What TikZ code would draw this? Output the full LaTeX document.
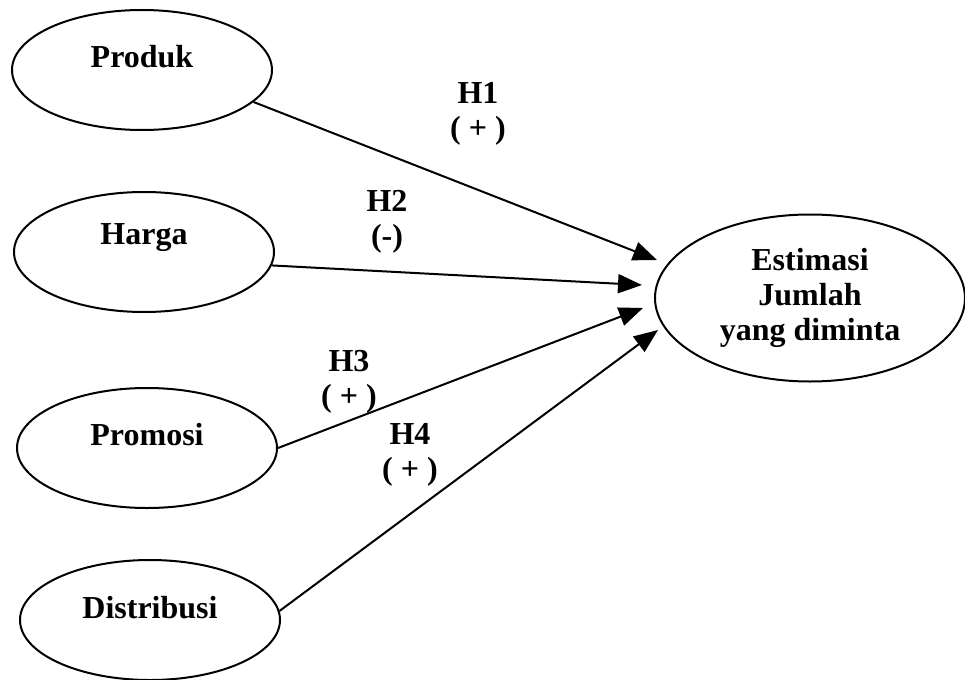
\documentclass[tikz,border=0pt]{standalone}
\usepackage{fontspec}
\setmainfont{Liberation Serif}
\usetikzlibrary{shapes.geometric,arrows.meta}
\begin{document}
\begin{tikzpicture}[x=1pt,y=-1pt,
  every node/.style={font=\fontsize{32}{35}\selectfont\bfseries},
  var/.style={ellipse,draw,line width=2pt,minimum width=260pt,minimum height=120pt,inner sep=0pt},
  target/.style={ellipse,draw,line width=2pt,minimum width=310pt,minimum height=167pt,inner sep=0pt,align=center},
  hyp/.style={inner sep=0pt,align=center},
  link/.style={line width=2pt,-{Triangle[length=24pt,width=19pt]}}]
  \useasboundingbox (0,0) rectangle (965,679);

  % independent variables
  \node[var,label={[yshift=13pt]center:Produk}] (prod) at (142,70) {};
  \node[var,label={[yshift=14pt]center:Harga}] (harga) at (144,252) {};
  \node[var,label={[yshift=13pt]center:Promosi}] (prom) at (147,448) {};
  \node[var,label={[yshift=12pt]center:Distribusi}] (dist) at (150,620) {};

  % dependent variable
  \node[target] (est) at (810,298) {Estimasi\\Jumlah\\yang diminta};

  % arrow tips, just short of the target ellipse
  \coordinate (t1) at (657,260);
  \coordinate (t2) at (642,285);
  \coordinate (t3) at (643,308);
  \coordinate (t4) at (658,330);

  \draw[link] (prod.-16) -- (t1);
  \draw[link] (harga.-6) -- (t2);
  \draw[link] (prom.east) -- (t3);
  \draw[link] (dist.4) -- (t4);

  % hypothesis labels
  \node[hyp] (h1) at (478,114) {H1\\( + )};
  \node[hyp] (h2) at (387,222) {H2\\(-)};
  \node[hyp] (h3) at (349,382) {H3\\( + )};
  \node[hyp] (h4) at (410,455) {H4\\( + )};
\end{tikzpicture}
\end{document}
